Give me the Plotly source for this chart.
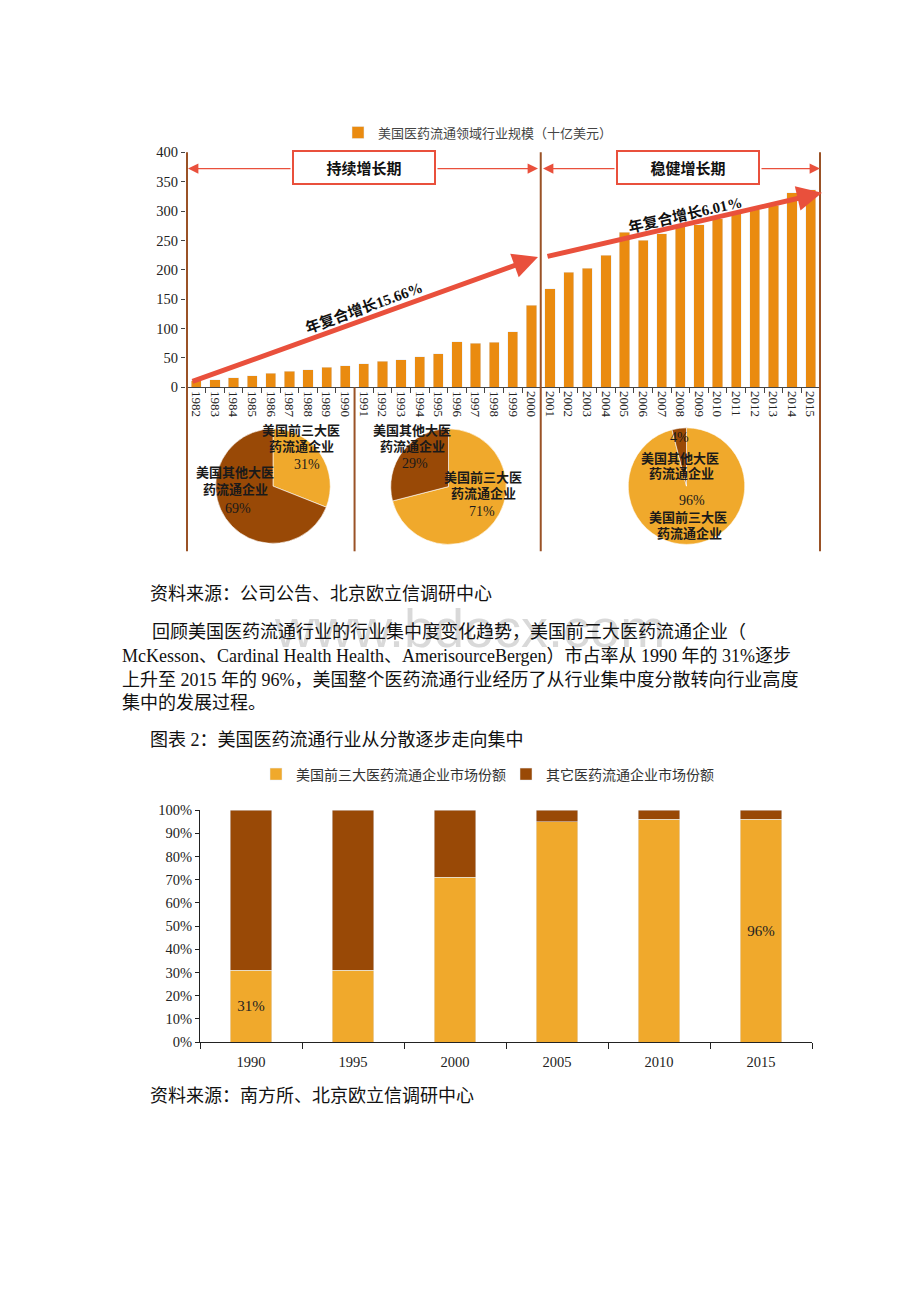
import plotly.graph_objects as go

# page body adds an 8px margin, so the figure is 8px smaller and all page coords shift
OFF = 8
W, H = 920 - OFF, 1302 - OFF
def px(x): return (x - OFF) / W
def py(y): return 1 - (y - OFF) / H

# ---------------- data ----------------
years1 = [str(y) for y in range(1982, 2016)]
market_size = [11, 13, 16, 20, 24, 27, 30, 34, 37, 40, 44, 47, 52, 57, 78, 75, 77, 95, 140,
               168, 196, 203, 225, 264, 250, 261, 273, 277, 287, 296, 302, 310, 331, 336]
series1_name = "美国医药流通领域行业规模（十亿美元）"

pie_labels = ["美国前三大医药流通企业", "美国其他大医药流通企业"]
pie1_values = [31, 69]   # 1990
pie2_values = [71, 29]   # 2000
pie3_values = [96, 4]    # 2015

years2 = ["1990", "1995", "2000", "2005", "2010", "2015"]
top3_share = [0.31, 0.31, 0.71, 0.95, 0.96, 0.96]
other_share = [0.69, 0.69, 0.29, 0.05, 0.04, 0.04]
top3_text = ["31%", "", "", "", "", "96%"]
series2_names = ["美国前三大医药流通企业市场份额", "其它医药流通企业市场份额"]

# ---------------- styles ----------------
ORANGE = "#EA8B10"
LIGHT = "#F0A92C"
DARK = "#994906"
RED = "#E9503C"
BROWN = "#9A5226"
SERIF = "Liberation Serif, Noto Sans CJK SC"
CJK = "Noto Sans CJK SC, Liberation Serif"

fig = go.Figure()

# chart 1 bars
fig.add_trace(go.Bar(x=years1, y=market_size, name=series1_name, marker_color=ORANGE,
                     width=0.55, xaxis="x", yaxis="y", legend="legend"))

# pies (light slice first, clockwise from 12 o'clock)
def add_pie(vals, x0, x1, y0, y1):
    fig.add_trace(go.Pie(labels=pie_labels, values=vals, sort=False, direction="clockwise",
                         rotation=0,
                         marker=dict(colors=[LIGHT, DARK], line=dict(color="white", width=0.6)),
                         textinfo="none", hoverinfo="label+percent", showlegend=False,
                         domain=dict(x=[px(x0), px(x1)], y=[py(y1), py(y0)])))

add_pie(pie1_values, 215, 331, 426, 542)
add_pie(pie2_values, 390, 507, 426, 543)
add_pie(pie3_values, 628, 745, 425, 543)

# chart 2 stacked bars
fig.add_trace(go.Bar(x=years2, y=top3_share, name=series2_names[0], marker_color=LIGHT,
                     width=0.41, text=top3_text, textposition="inside", insidetextanchor="middle",
                     textangle=0, textfont=dict(family=SERIF, size=15, color="#222"),
                     xaxis="x2", yaxis="y2", legend="legend2"))
fig.add_trace(go.Bar(x=years2, y=other_share, name=series2_names[1], marker_color=DARK,
                     width=0.41, xaxis="x2", yaxis="y2", legend="legend2"))

fig.update_layout(
    width=W, height=H, margin=dict(l=0, r=0, t=0, b=0),
    paper_bgcolor="white", plot_bgcolor="white", barmode="stack",
    font=dict(family=SERIF, color="#222"),
    xaxis=dict(domain=[px(186), px(821)], anchor="y", type="category", tickangle=90,
               ticks="outside", tickson="boundaries", ticklen=5, tickcolor="#444",
               showline=True, linecolor="#444", linewidth=1,
               tickfont=dict(family=SERIF, size=13, color="#222"), showgrid=False),
    yaxis=dict(domain=[py(384), py(146)], anchor="x", range=[0, 400], dtick=50,
               ticks="outside", ticklen=4, tickcolor="#444", showline=False, showgrid=False,
               zeroline=False, tickfont=dict(family=SERIF, size=14.5, color="#222")),
    xaxis2=dict(domain=[px(200), px(812)], anchor="y2", type="category",
                ticks="outside", tickson="boundaries", ticklen=6, tickcolor="#222",
                showline=True, linecolor="#222", linewidth=1.2, ticklabelstandoff=6,
                tickfont=dict(family=SERIF, size=14.5, color="#222"), showgrid=False),
    yaxis2=dict(domain=[py(1047), py(812)], anchor="x2", range=[0, 1], dtick=0.1,
                tickformat=".0%", ticks="outside", ticklen=4, tickcolor="#222",
                showline=True, linecolor="#222", linewidth=1.2, showgrid=False, zeroline=False,
                tickfont=dict(family=SERIF, size=14.5, color="#222")),
    legend=dict(orientation="h", x=px(478), xanchor="center", y=py(126), yanchor="middle",
                font=dict(family=CJK, size=13, color="#444"), bgcolor="rgba(0,0,0,0)",
                itemwidth=30),
    legend2=dict(orientation="h", x=px(256), xanchor="left", y=py(776), yanchor="middle",
                 font=dict(family=CJK, size=14, color="#333"), bgcolor="rgba(0,0,0,0)",
                 itemwidth=30, entrywidth=205, traceorder="normal"),
)

shapes = []
# brown vertical divider lines (category boundaries)
for xb, ytop in [(-0.5, 146), (18.5, 146), (33.5, 146), (8.5, 384)]:
    shapes.append(dict(type="line", xref="x", yref="paper", x0=xb, x1=xb,
                       y0=py(550), y1=py(ytop), line=dict(color=BROWN, width=2)))
fig.update_layout(shapes=shapes)

ann = []
# watermark
ann.append(dict(text="www.bdocx.com", x=px(470), y=py(628), xref="paper", yref="paper",
                xanchor="center", yanchor="middle", showarrow=False,
                font=dict(family="Liberation Sans", size=54, color="#d9d9d9")))

# period boxes
for label, xc in [("持续增长期", 364), ("稳健增长期", 688)]:
    ann.append(dict(text="<b>" + label + "</b>", x=px(xc), y=py(161.5), xref="paper", yref="paper",
                    xanchor="center", yanchor="middle",
                    showarrow=False, width=138, height=29, borderpad=1, borderwidth=2,
                    bordercolor=RED, bgcolor="white",
                    font=dict(family=CJK, size=15, color="#111")))
# thin double arrows
for head, tail in [(188, 292), (538, 436), (543, 616), (820, 760)]:
    ann.append(dict(text="", x=px(head), y=py(162.5), xref="paper", yref="paper",
                    ax=tail - head, ay=0, showarrow=True, arrowhead=2, arrowsize=1.6,
                    arrowwidth=1.3, arrowcolor=RED, standoff=0))
# big growth arrows
for (tx, ty), (hx, hy) in [((191, 377), (538, 252)), ((546, 251), (822, 187))]:
    ann.append(dict(text="", x=px(hx), y=py(hy), xref="paper", yref="paper",
                    ax=tx - hx, ay=ty - hy, showarrow=True, arrowhead=2, arrowsize=1.0,
                    arrowwidth=5, arrowcolor=RED, standoff=0))
ann.append(dict(text="<b>年复合增长15.66%</b>", x=px(364), y=py(303), xref="paper", yref="paper",
                xanchor="center", yanchor="middle",
                showarrow=False, textangle=-20, font=dict(family=SERIF, size=15, color="#111")))
ann.append(dict(text="<b>年复合增长6.01%</b>", x=px(685), y=py(209), xref="paper", yref="paper",
                xanchor="center", yanchor="middle",
                showarrow=False, textangle=-13, font=dict(family=SERIF, size=15, color="#111")))

# pie labels
def lbl(txt, x, y, size=13, bold=True):
    t = "<b>" + txt + "</b>" if bold else txt
    ann.append(dict(text=t, x=px(x), y=py(y), xref="paper", yref="paper", showarrow=False,
                    xanchor="center", yanchor="middle",
                    font=dict(family=SERIF, size=size, color="#1a1a1a")))

lbl("美国前三大医", 301, 428); lbl("药流通企业", 301, 444); lbl("31%", 307, 462, 14, False)
lbl("美国其他大医", 235, 470); lbl("药流通企业", 235, 487); lbl("69%", 238, 507, 14, False)
lbl("美国其他大医", 412, 428); lbl("药流通企业", 412, 444); lbl("29%", 415, 461, 14, False)
lbl("美国前三大医", 483, 475); lbl("药流通企业", 483, 491); lbl("71%", 482, 510, 14, False)
lbl("4%", 679, 435, 14, False)
lbl("美国其他大医", 680, 456); lbl("药流通企业", 681, 471)
lbl("96%", 692, 499, 14, False)
lbl("美国前三大医", 688, 516); lbl("药流通企业", 689, 532)

# body text
def body(txt, x, y):
    ann.append(dict(text=txt, x=px(x), y=py(y), xref="paper", yref="paper", xanchor="left",
                    yanchor="middle", showarrow=False,
                    font=dict(family=SERIF, size=18, color="#111")))

body("资料来源：公司公告、北京欧立信调研中心", 148, 593)
body("回顾美国医药流通行业的行业集中度变化趋势，美国前三大医药流通企业（", 150, 632)
body("McKesson、Cardinal Health Health、AmerisourceBergen）市占率从 1990 年的 31%逐步", 120, 656)
body("上升至 2015 年的 96%，美国整个医药流通行业经历了从行业集中度分散转向行业高度", 120, 680)
body("集中的发展过程。", 120, 704)
body("图表 2：美国医药流通行业从分散逐步走向集中", 148, 741)
body("资料来源：南方所、北京欧立信调研中心", 148, 1102)

fig.update_layout(annotations=ann)
fig.write_html("out.html")
